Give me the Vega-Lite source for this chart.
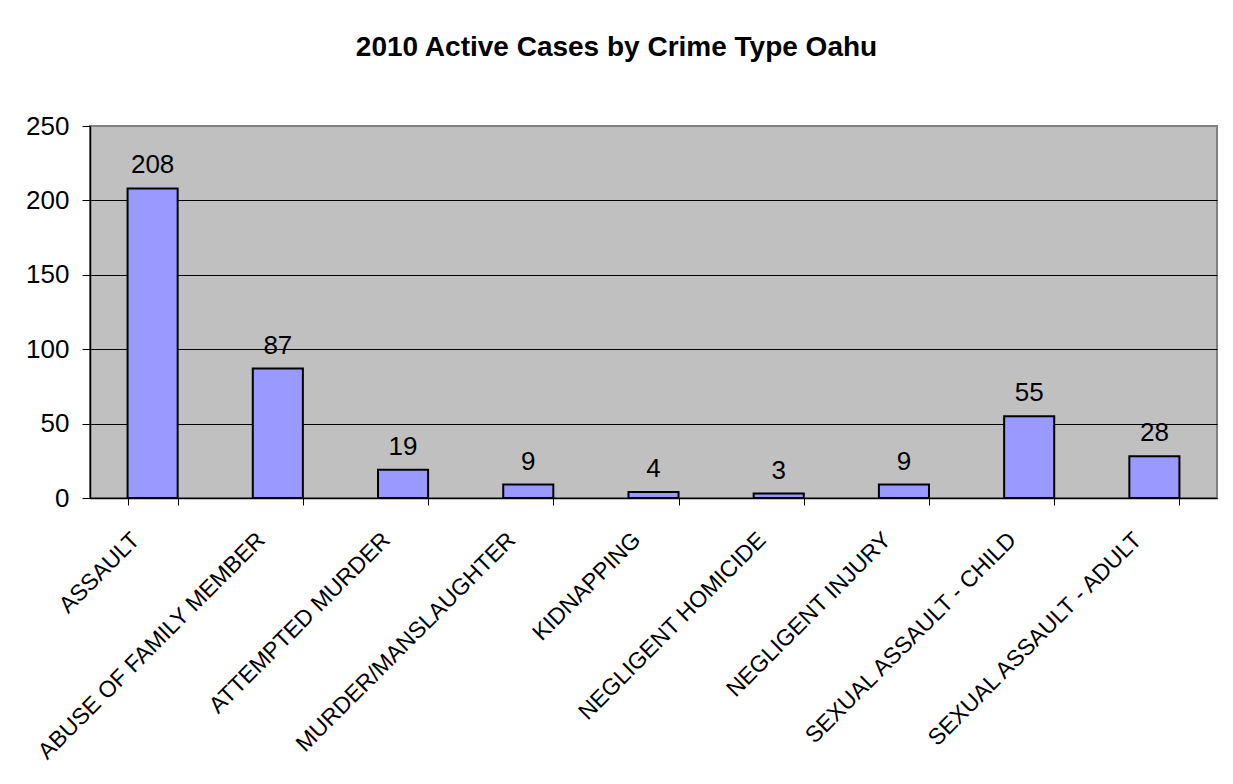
{
  "$schema": "https://vega.github.io/schema/vega-lite/v6.json",
  "width": 1127,
  "height": 372,
  "autosize": {"type": "none"},
  "padding": {"left": 90, "top": 126, "right": 16, "bottom": 286},
  "background": "white",
  "title": {
    "text": "2010 Active Cases by Crime Type Oahu",
    "fontSize": 28,
    "font": "Liberation Sans",
    "fontWeight": "bold",
    "color": "black",
    "anchor": "middle",
    "baseline": "alphabetic",
    "offset": 29,
    "dx": -37
  },
  "config": {
    "font": "Liberation Sans",
    "view": {"fill": "#C0C0C0", "stroke": "#808080", "strokeWidth": 2}
  },
  "data": {
    "values": [
      {"crime": "ASSAULT", "cases": 208},
      {"crime": "ABUSE OF FAMILY MEMBER", "cases": 87},
      {"crime": "ATTEMPTED MURDER", "cases": 19},
      {"crime": "MURDER/MANSLAUGHTER", "cases": 9},
      {"crime": "KIDNAPPING", "cases": 4},
      {"crime": "NEGLIGENT HOMICIDE", "cases": 3},
      {"crime": "NEGLIGENT INJURY", "cases": 9},
      {"crime": "SEXUAL ASSAULT - CHILD", "cases": 55},
      {"crime": "SEXUAL ASSAULT - ADULT", "cases": 28}
    ]
  },
  "encoding": {
    "x": {
      "field": "crime",
      "type": "nominal",
      "sort": null,
      "scale": {"paddingInner": 0.6, "paddingOuter": 0.3},
      "axis": {
        "title": null,
        "labelAngle": -45,
        "labelAlign": "right",
        "labelBaseline": "middle",
        "labelFontSize": 23,
        "labelColor": "black",
        "labelOffset": -17,
        "labelPadding": 31,
        "labelLimit": 400,
        "labelOverlap": false,
        "labelBound": false,
        "tickBand": "extent",
        "tickSize": 7,
        "tickColor": "black",
        "domainColor": "black",
        "domainWidth": 1.5,
        "grid": false
      }
    },
    "y": {
      "field": "cases",
      "type": "quantitative",
      "scale": {"domain": [0, 250], "nice": false},
      "axis": {
        "title": null,
        "values": [0, 50, 100, 150, 200, 250],
        "labelFontSize": 26,
        "labelColor": "black",
        "labelPadding": 13,
        "tickSize": 8,
        "tickColor": "black",
        "domainColor": "black",
        "domainWidth": 1.5,
        "grid": true,
        "gridColor": {"condition": {"test": "datum.value == 250", "value": "#808080"}, "value": "black"},
        "gridWidth": 1
      }
    }
  },
  "layer": [
    {"mark": {"type": "bar", "fill": "#9999FF", "stroke": "black", "strokeWidth": 2}},
    {
      "mark": {"type": "text", "baseline": "alphabetic", "dy": -15, "fontSize": 26, "color": "black"},
      "encoding": {"text": {"field": "cases", "type": "quantitative"}}
    }
  ]
}
